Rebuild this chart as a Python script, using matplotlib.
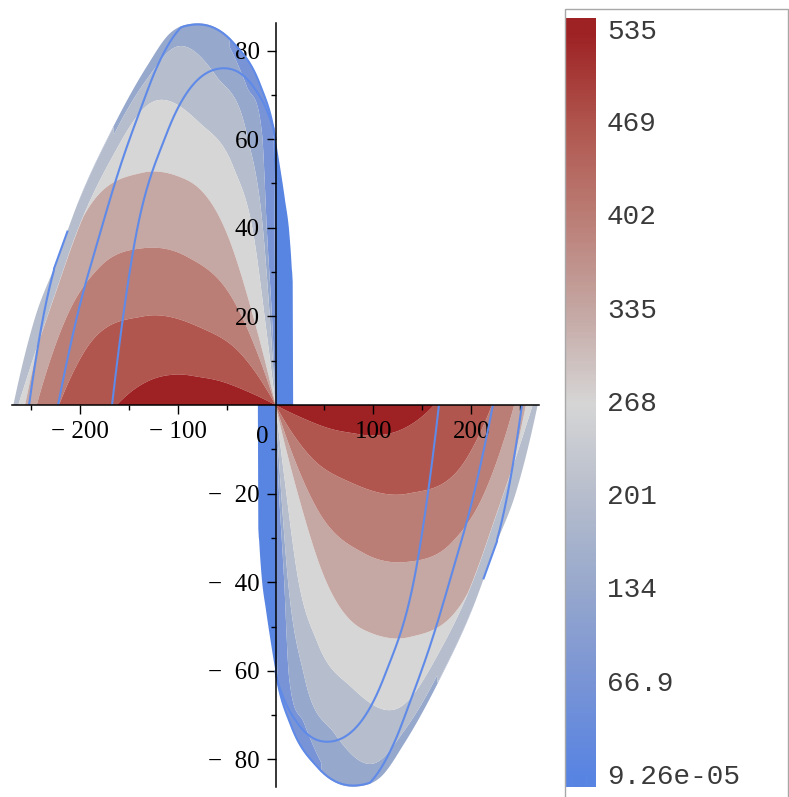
import numpy as np
import matplotlib
matplotlib.use("Agg")
import matplotlib.pyplot as plt
from matplotlib.colors import LinearSegmentedColormap
from matplotlib.patches import Rectangle
import matplotlib.transforms as mtransforms

# ---------------- data ----------------
cbar_values = [9.26e-05, 66.9, 134, 201, 268, 335, 402, 469, 535]
cbar_labels = ["9.26e-05", "66.9", "134", "201", "268", "335", "402", "469", "535"]
band_colors = ["#5884e2", "#7994d6", "#97a8cd", "#b6bdcc", "#d6d6d6",
               "#c5a7a3", "#bb7e76", "#b0564e", "#9e2224"]

# upper-left lobe, u = -x ; boundary of the plotted region
boundary_u = [-18.0, -17.9, -16.5, -14.1, -9.7, -4.6, 2.2, 15.8, 43.0, 84.5,
              107.7, 131.4, 169.0, 201.0, 225.0, 245.0, 267.5]
boundary_y = [0.0, 24.0, 31.2, 38.8, 46.3, 53.8, 62.8, 72.5, 82.0, 86.1,
              83.9, 76.4, 61.3, 46.0, 31.5, 20.0, 0.0]
# function value along that boundary
edge_val_u = [0.0, 3.0, 50.0, 100.0, 170.0, 215.0, 250.0, 267.5]
edge_val_v = [9.26e-05, 40.0, 105.0, 130.0, 150.0, 175.0, 200.0, 215.0]

# contour lines between the colour bands (outer -> inner); True = merges into edge
c1_u = [0.0, 0.6, 1.5, 3.0]
c1_y = [0.0, 30.0, 55.0, 66.0]
c2_u = [0.0, 2.0, 8.7, 13.8, 29.1, 50.0]
c2_y = [0.0, 12.0, 38.8, 61.4, 71.8, 82.0]
c3_u = [0.0, 4.0, 12.4, 29.4, 60.0, 100.8, 131.4, 165.0]
c3_y = [0.0, 14.0, 38.8, 61.3, 74.1, 80.9, 73.5, 61.0]
c4_u = [0.0, 9.0, 22.7, 43.1, 77.0, 128.1, 169.0, 201.0, 225.0, 245.0, 262.4]
c4_y = [0.0, 16.2, 38.8, 53.8, 63.6, 68.1, 55.0, 40.0, 25.0, 12.0, 0.0]
c5_u = [0.0, 22.7, 49.8, 90.6, 136.5, 196.1, 230.1, 255.6]
c5_y = [0.0, 19.9, 38.8, 50.8, 52.4, 42.5, 23.7, 0.0]
c6_u = [0.0, 15.8, 43.1, 90.6, 134.9, 179.1, 213.1, 243.7]
c6_y = [0.0, 10.2, 23.7, 33.5, 35.4, 31.2, 19.9, 0.0]
c7_u = [0.0, 36.0, 77.0, 135.0, 196.0, 221.0]
c7_y = [0.0, 11.7, 17.5, 20.0, 11.7, 0.0]
c8_u = [0.0, 26.0, 60.0, 77.0, 100.0, 128.0, 145.0, 162.0]
c8_y = [0.0, 2.8, 5.6, 6.3, 6.9, 5.6, 3.4, 0.0]

# blue curves drawn on top (start of each curve given separately)
inner_u = [0.0, 9.0, 22.7, 54.9, 111.0, 145.1, 166.8]
inner_y = [61.0, 66.6, 71.9, 76.0, 61.3, 35.0, 0.0]
inner_start = 0.0
middle_u = [90.0, 104.6, 121.0, 138.0, 158.7, 179.0, 202.6, 221.9]
middle_y = [86.5, 83.0, 76.3, 66.6, 53.7, 38.8, 19.9, 0.0]
middle_start = 0.0
outer_u = [226.0, 233.5, 251.5]
outer_y = [30.5, 23.7, 0.0]
outer_start = 212.0

x_major = [-200, -100, 100, 200]
x_minor = [-250, -150, -50, 50, 150, 250]
y_major = [-80, -60, -40, -20, 20, 40, 60, 80]
y_minor = [-70, -50, -30, -10, 10, 30, 50, 70]


# ---------------- helpers ----------------
def smooth(xp, yp, x):
    """cubic Hermite through the points, Bessel tangents, monotone-limited"""
    xp = np.asarray(xp, float); yp = np.asarray(yp, float)
    x = np.asarray(x, float)
    h = np.diff(xp); d = np.diff(yp) / h
    n = len(xp)
    m = np.zeros(n)
    ext = np.zeros(n, bool)
    if n == 2:
        m[:] = d[0]
    else:
        for k in range(1, n - 1):
            m[k] = (h[k - 1] * d[k] + h[k] * d[k - 1]) / (h[k - 1] + h[k])
            if d[k - 1] * d[k] > 0:
                lim = 3 * min(abs(d[k - 1]), abs(d[k]))
                m[k] = np.sign(m[k]) * min(abs(m[k]), lim)
            else:
                ext[k] = True

        def endslope(h0, h1, d0, d1):
            s = ((2 * h0 + h1) * d0 - h0 * d1) / (h0 + h1)
            if np.sign(s) != np.sign(d0):
                s = 0.0
            elif abs(s) > abs(3 * d0):
                s = 3 * d0
            return s
        m[0] = endslope(h[0], h[1], d[0], d[1])
        m[-1] = endslope(h[-1], h[-2], d[-1], d[-2])
        for k in range(n - 1):
            if d[k] == 0 or ext[k] or ext[k + 1]:
                continue
            a = m[k] / d[k]; b = m[k + 1] / d[k]
            s = a * a + b * b
            if s > 9:
                tau = 3 / np.sqrt(s)
                m[k] *= tau; m[k + 1] *= tau
    xc = np.clip(x, xp[0], xp[-1])
    idx = np.clip(np.searchsorted(xp, xc, side='right') - 1, 0, n - 2)
    hh = h[idx]; t = (xc - xp[idx]) / hh
    t2 = t * t; t3 = t2 * t
    return ((2 * t3 - 3 * t2 + 1) * yp[idx] + (t3 - 2 * t2 + t) * hh * m[idx]
            + (-2 * t3 + 3 * t2) * yp[idx + 1] + (t3 - t2) * hh * m[idx + 1])


def curve(u_pts, y_pts, u, before, after):
    y = smooth(u_pts, y_pts, u)
    y = np.where(u < u_pts[0], before, y)
    y = np.where(u > u_pts[-1], after, y)
    return y


levels_mid = [(a + b) / 2 for a, b in zip(cbar_values[:-1], cbar_values[1:])]
vmin, vmax = cbar_values[0], cbar_values[-1]
colors_list = [(0.0, band_colors[0])] + [
    (v / vmax, c) for v, c in zip(cbar_values[1:], band_colors[1:])]
cmap = LinearSegmentedColormap.from_list("maple_bwr", colors_list)

arches = [(c1_u, c1_y, True), (c2_u, c2_y, True), (c3_u, c3_y, True),
          (c4_u, c4_y, False), (c5_u, c5_y, False), (c6_u, c6_y, False),
          (c7_u, c7_y, False), (c8_u, c8_y, False)]

# ---------------- field on a curvilinear grid ----------------
u_cols = np.unique(np.concatenate([
    np.linspace(boundary_u[0], -1e-3, 40), [0.0],
    np.geomspace(0.004, 12, 220), np.linspace(12, boundary_u[-1], 760)]))
Yb = np.clip(smooth(boundary_u, boundary_y, u_cols), 0, None)
qb = np.interp(u_cols, edge_val_u, edge_val_v)
eta = np.linspace(0, 1, 900) ** 1.6
Yg = eta[:, None] * Yb[None, :]
Xg = -np.repeat(u_cols[None, :], len(eta), axis=0)

arch_h = []
for au, ay, follow in arches:
    h = curve(au, ay, u_cols, 0.0, np.inf if follow else 0.0)
    if not follow:
        h = np.where(u_cols >= au[-1], 0.0, h)
    arch_h.append(h)

landing_u = [0.0] + [a[0][-1] for a in arches[::-1] if not a[2]] + [boundary_u[-1]]
landing_v = [vmax] + [lv for a, lv in zip(arches[::-1], levels_mid[::-1]) if not a[2]] \
    + [edge_val_v[-1]]
q_axis = np.interp(u_cols, landing_u, landing_v)

Q = np.full(Yg.shape, vmin)
eps = 0.003
for i, u in enumerate(u_cols):
    if u <= 0 or Yb[i] <= 0:
        continue
    prev = Yb[i]
    xs, qs = [], []
    for k in range(len(arches)):
        if levels_mid[k] <= qb[i]:
            continue
        h = arch_h[k][i]
        if h <= 0:
            break
        h = min(h, prev * (1 - eps))
        if h <= 0:
            break
        xs.append(h); qs.append(levels_mid[k]); prev = h
    xp = [0.0] + xs[::-1] + [Yb[i]]
    fp = [max(q_axis[i], qb[i])] + qs[::-1] + [qb[i]]
    Q[:, i] = np.interp(Yg[:, i], xp, fp)

# ---------------- figure ----------------
W, H = 789, 797
YMAX = 86.6
fig = plt.figure(figsize=(W / 100, H / 100), dpi=100)
fig.patch.set_facecolor("white")
ax = fig.add_axes([11.9 / W, (H - (405 + YMAX * 4.43)) / H, 527.2 / W, 2 * YMAX * 4.43 / H])
ax.patch.set_alpha(0)

lev = [-1.0] + levels_mid + [1e4]
ax.contourf(Xg, Yg, Q, levels=lev, colors=band_colors, antialiased=True, zorder=1)
ax.contourf(-Xg, -Yg, Q, levels=lev, colors=band_colors, antialiased=True, zorder=1)

line_col = "#5f8ae8"
for lu, ly, u0 in [(inner_u, inner_y, inner_start), (middle_u, middle_y, middle_start),
                   (outer_u, outer_y, outer_start)]:
    uu = np.linspace(u0, lu[-1], 800)
    ybd = np.clip(smooth(boundary_u, boundary_y, uu), 0, None)
    yy = np.minimum(curve(lu, ly, uu, np.inf, 0.0), ybd * 0.997)
    ax.plot(-uu, yy, color=line_col, lw=1.5, zorder=2, solid_capstyle='butt')
    ax.plot(uu, -yy, color=line_col, lw=1.5, zorder=2, solid_capstyle='butt')

ax.set_xlim(-269, 269)
ax.set_ylim(-YMAX, YMAX)
for s in ["top", "right"]:
    ax.spines[s].set_visible(False)
ax.spines["left"].set_position(("data", 0))
ax.spines["bottom"].set_position(("data", 0))
ax.spines["left"].set_bounds(-86.2, 86.2)
for s in ["left", "bottom"]:
    ax.spines[s].set_linewidth(1.1)
    ax.spines[s].set_zorder(5)

tick_font = dict(family="Liberation Serif", size=18)
ax.set_xticks(x_major)
ax.set_xticklabels(["\u2212 " + str(abs(v)) if v < 0 else str(v) for v in x_major], **tick_font)
ax.set_xticks(x_minor, minor=True)
ax.set_yticks(y_major)
ax.set_yticklabels(["\u2212\u2002" + str(abs(v)) if v < 0 else str(v) for v in y_major], **tick_font)
ax.set_yticks(y_minor, minor=True)
ax.tick_params(which="major", direction="out", length=6.5, width=1.0, pad=5)
ax.tick_params(which="minor", direction="out", length=3.5, width=1.0)

off = mtransforms.offset_copy(ax.transData, fig=fig, x=-13, y=-32, units="dots")
ax.text(0, 0, "0", transform=off, ha="center", va="center", **tick_font)

# ---------------- colour legend ----------------
fig.add_artist(Rectangle((565 / W, -0.01), 223 / W, (H - 9) / H + 0.01,
                         transform=fig.transFigure, fill=False,
                         edgecolor="#a8a8a8", lw=1.0))
cax = fig.add_axes([566 / W, (H - 787) / H, 30 / W, 769 / H])
rows = np.arange(18, 787) + 0.5
vals = np.clip(vmax * (777 - rows) / (777 - 32), vmin, vmax)
grad = cmap(vals / vmax)[:, None, :3]
cax.imshow(grad, aspect="auto", interpolation="bilinear")
cax.set_axis_off()

for v, lab in zip(cbar_values, cbar_labels):
    py = 777 - (v - vmin) / (vmax - vmin) * (777 - 32)
    fig.text(607 / W, (H - py) / H, lab, family="Liberation Mono", size=20,
             color="#3a3a3a", ha="left", va="center")

fig.savefig("out.png", dpi=100, facecolor="white")
